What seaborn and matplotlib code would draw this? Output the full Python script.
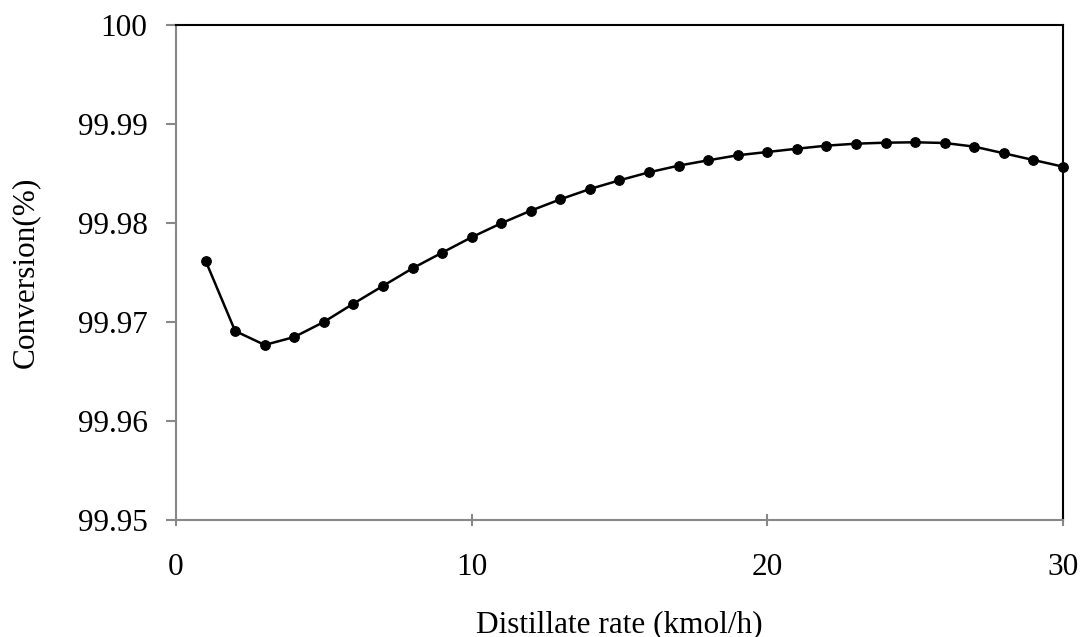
import numpy as np
import pandas as pd
import matplotlib
matplotlib.use("Agg")
import matplotlib.pyplot as plt
import seaborn as sns

# Distillate rate (kmol/h) and conversion (%)
distillate = list(range(1, 31))
conversion = [99.97619, 99.96909, 99.96768, 99.96848, 99.97000, 99.97185,
              99.97364, 99.97542, 99.97700, 99.97856, 99.97997, 99.98124,
              99.98239, 99.98343, 99.98431, 99.98512, 99.98579, 99.98633,
              99.98684, 99.98717, 99.98750, 99.98781, 99.98801, 99.98811,
              99.98815, 99.98808, 99.98771, 99.98704, 99.98636, 99.98569]

x_ticks = [0, 10, 20, 30]
y_ticks = [99.95, 99.96, 99.97, 99.98, 99.99, 100]
y_labels = ["99.95", "99.96", "99.97", "99.98", "99.99", "100"]

df = pd.DataFrame({"Distillate": distillate, "Conversion": conversion})

sns.set_style("white")
plt.rcParams['font.family'] = ['Liberation Serif', 'DejaVu Serif']
plt.rcParams['text.color'] = 'black'
plt.rcParams['axes.labelcolor'] = 'black'
plt.rcParams['xtick.color'] = 'black'
plt.rcParams['ytick.color'] = 'black'

fig = plt.figure(figsize=(10.83, 6.37), dpi=100)
ax = fig.add_axes([0.1625, 0.1837, 0.819, 0.7771])

sns.lineplot(data=df, x="Distillate", y="Conversion", ax=ax, color="black",
             marker="o", markersize=7, markeredgecolor="black",
             linewidth=1.8, clip_on=False)

ax.set_xlim(0, 30)
ax.set_ylim(99.95, 100)
ax.set_xticks(x_ticks)
ax.set_yticks(y_ticks)
ax.set_yticklabels(y_labels)
ax.set_xlabel("Distillate rate (kmol/h)", fontsize=22.5, labelpad=20)
ax.set_ylabel("Conversion(%)", fontsize=22.5, labelpad=27)

for side in ["left", "bottom"]:
    ax.spines[side].set_color("#888888")
    ax.spines[side].set_linewidth(1.5)
for side in ["top", "right"]:
    ax.spines[side].set_color("black")
    ax.spines[side].set_linewidth(1.5)

ax.tick_params(axis="y", direction="out", length=7.5, width=1.5, color="#888888",
               labelcolor="black", labelsize=22.5, pad=13, left=True)
ax.tick_params(axis="x", direction="inout", length=8, width=1.5, color="#888888",
               labelcolor="black", labelsize=22.5, pad=20, bottom=True)

fig.savefig("out.png", dpi=100)
